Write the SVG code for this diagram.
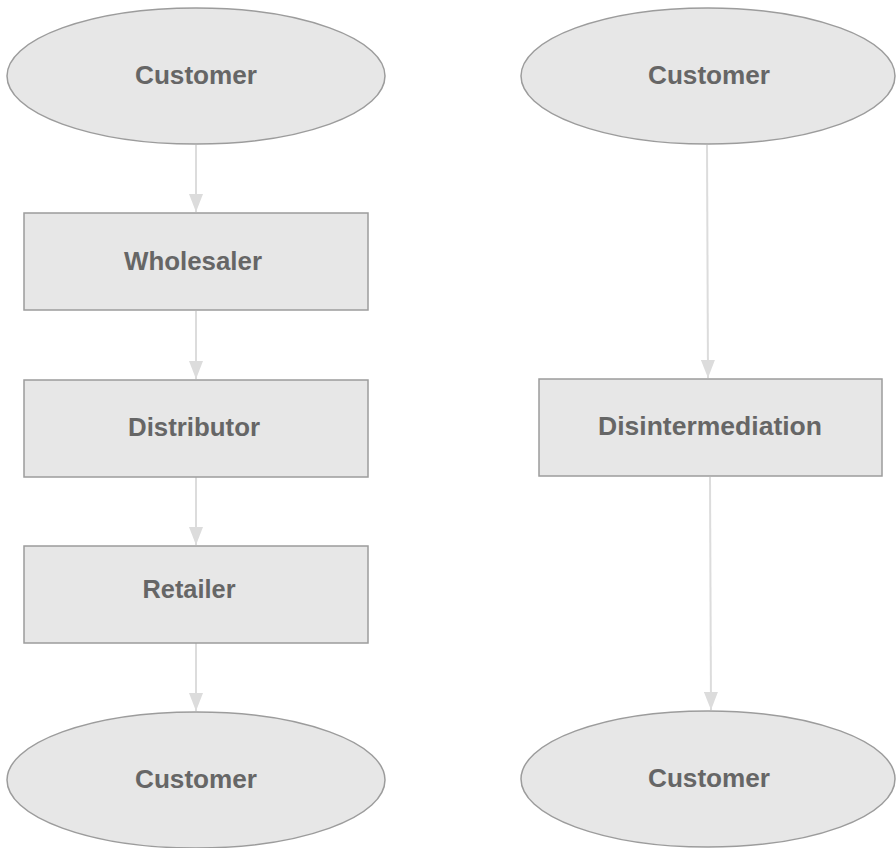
<svg xmlns="http://www.w3.org/2000/svg" width="896" height="848" viewBox="0 0 896 848">
  <style>
    .shape { fill: #e7e7e7; stroke: #9c9c9c; stroke-width: 1.5; }
    .label { font-family: "Liberation Sans", Arial, sans-serif; font-weight: bold; font-size: 25px; fill: #666666; text-anchor: middle; }
    .link { stroke: #dcdcdc; stroke-width: 2; fill: none; marker-end: url(#head); }
  </style>
  <defs>
    <!-- solid triangular arrowhead, tip at the end of the line -->
    <marker id="head" markerWidth="18" markerHeight="14" refX="18" refY="7" orient="auto" markerUnits="userSpaceOnUse" viewBox="0 0 18 14">
      <path d="M0,0 L18,7 L0,14 Z" fill="#dcdcdc"/>
    </marker>
  </defs>
  <rect width="896" height="848" fill="#ffffff"/>

  <!-- connectors -->
  <g id="connectors">
    <line class="link" x1="196" y1="145" x2="196" y2="212" />
    <line class="link" x1="196" y1="311" x2="196" y2="379" />
    <line class="link" x1="196" y1="477" x2="196" y2="545" />
    <line class="link" x1="196" y1="643" x2="196" y2="711" />
    <line class="link" x1="707" y1="145" x2="708" y2="378" />
    <line class="link" x1="710" y1="477" x2="711" y2="710" />
  </g>

  <!-- left chain -->
  <g id="customer-left-top">
    <ellipse class="shape" cx="196" cy="76" rx="189" ry="68"/>
    <text class="label" x="196" y="84" textLength="122" lengthAdjust="spacingAndGlyphs">Customer</text>
  </g>
  <g id="wholesaler">
    <rect class="shape" x="24" y="213" width="344" height="97"/>
    <text class="label" x="193" y="270" textLength="138" lengthAdjust="spacingAndGlyphs">Wholesaler</text>
  </g>
  <g id="distributor">
    <rect class="shape" x="24" y="380" width="344" height="97"/>
    <text class="label" x="194" y="436" textLength="132" lengthAdjust="spacingAndGlyphs">Distributor</text>
  </g>
  <g id="retailer">
    <rect class="shape" x="24" y="546" width="344" height="97"/>
    <text class="label" x="189" y="598" textLength="93" lengthAdjust="spacingAndGlyphs">Retailer</text>
  </g>
  <g id="customer-left-bottom">
    <ellipse class="shape" cx="196" cy="780" rx="189" ry="68"/>
    <text class="label" x="196" y="788" textLength="122" lengthAdjust="spacingAndGlyphs">Customer</text>
  </g>

  <!-- right chain -->
  <g id="customer-right-top">
    <ellipse class="shape" cx="708" cy="76" rx="187" ry="68"/>
    <text class="label" x="709" y="84" textLength="122" lengthAdjust="spacingAndGlyphs">Customer</text>
  </g>
  <g id="disintermediation">
    <rect class="shape" x="539" y="379" width="343" height="97"/>
    <text class="label" x="710" y="435" textLength="224" lengthAdjust="spacingAndGlyphs">Disintermediation</text>
  </g>
  <g id="customer-right-bottom">
    <ellipse class="shape" cx="708" cy="779" rx="187" ry="68"/>
    <text class="label" x="709" y="787" textLength="122" lengthAdjust="spacingAndGlyphs">Customer</text>
  </g>
</svg>
